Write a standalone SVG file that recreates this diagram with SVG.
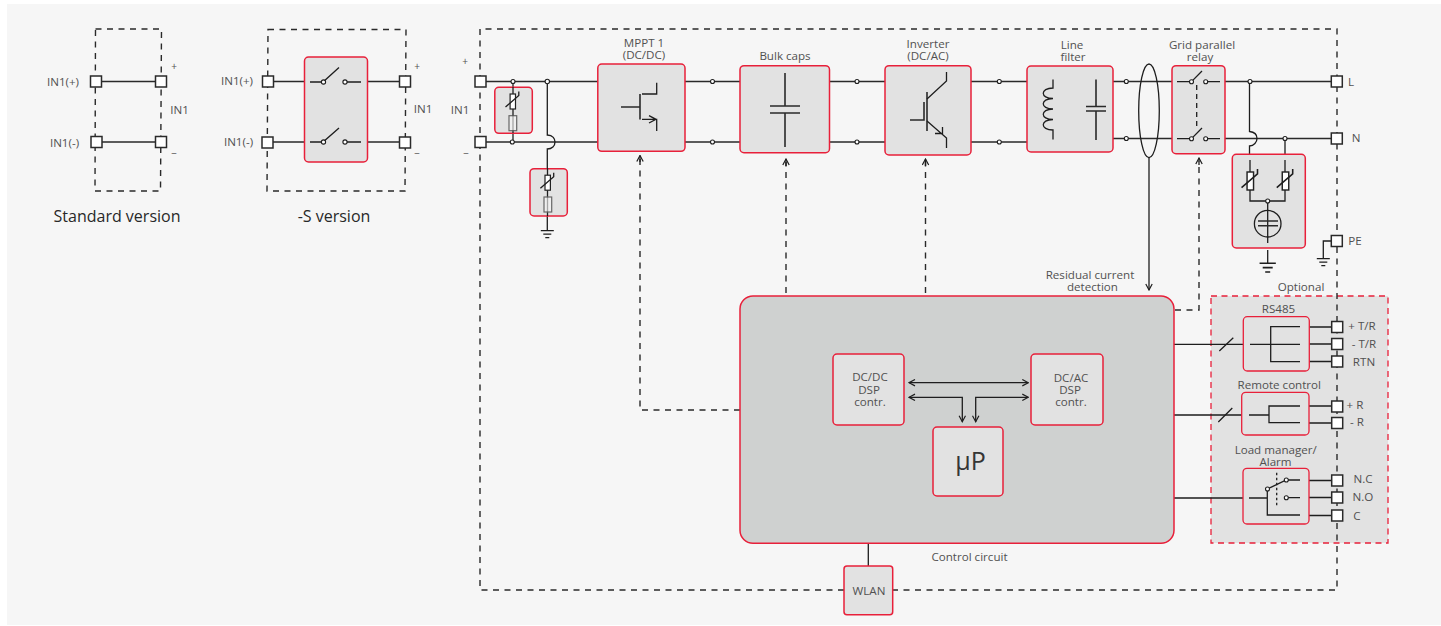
<svg xmlns="http://www.w3.org/2000/svg" width="1441" height="626" viewBox="0 0 1441 626">
<style>
text{font-family:"Open Sans","Noto Sans","Liberation Sans",sans-serif;font-size:11.6px;fill:#505050;text-anchor:middle;opacity:.99}
.t{font-size:16px;fill:#262626}
.w{stroke:#2a2a2a;stroke-width:1.6;fill:none}
.k{stroke:#1e1e1e;stroke-width:1.3;fill:none}
.d{stroke:#2a2a2a;stroke-width:1.4;fill:none;stroke-dasharray:6 5.500}
.b{fill:#e2e2e2;stroke:#e8203a;stroke-width:1.5}
.i{fill:#e2e2e2;stroke:#e8203a;stroke-width:1.3}
.p{fill:#fff;stroke:#2a2a2a;stroke-width:1.5}
.s{fill:#fff;stroke:#222;stroke-width:1.2}
.f{fill:#efefef;stroke:#666;stroke-width:1.2}
.o{fill:#fff;stroke:#1e1e1e;stroke-width:1.1}
</style>
<defs>
<marker id="a" viewBox="0 0 8 8" refX="7" refY="4" markerWidth="8" markerHeight="8" markerUnits="userSpaceOnUse" orient="auto-start-reverse"><path d="M1 .8L7 4L1 7.2" fill="none" stroke="#1e1e1e" stroke-width="1.2"/></marker>
<g id="var"><rect x="-2.700" y="-7.500" width="5.400" height="15" class="s"/><path class="k" d="M-7.300 5.500L6 -6V-10"/></g>
<g id="gnd"><path class="k" d="M-6.500 0H6.500M-4 3.500H4M-2 7H2"/></g>
</defs>
<rect width="1441" height="626" fill="#fff"/>
<rect x="7" y="4" width="1434" height="621" fill="#f6f6f6"/>

<g id="optional-panel"><rect x="1211" y="296" width="177" height="247" fill="#e2e2e2" stroke="#e8203a" stroke-width="1.3" stroke-dasharray="6 4.500"/></g>

<g id="connectors">
<path class="d" d="M95.500 29H161.500L160.500 191H95Z"/>
<path class="d" d="M268 29.500H406L405 191H267Z"/>
<path class="w" d="M96 81.500H161M96 142H161M268 81.500H304M367 81.500H405M267 142H304M367 142H405"/>
<path class="d" d="M480 81V29H1337V590H893M844 590H480V142M480 81V142"/>
<path class="w" d="M481 81.500H598M481 142H598M685 81.500H740M685 142H740M830 81.500H885M830 142H885M971 81.500H1027M971 142H1027M1113 81.500H1172M1113 138.500H1172M1225 81.500H1337M1225 138.500H1337"/>
<path class="k" d="M513 81V142M547.300 81V135C553 135 555 139 555 142C555 146 552 149 547.300 149V168M547.300 216V231"/>
<path class="k" d="M1149 157V290" marker-end="url(#a)"/>
<ellipse cx="1149" cy="110.800" rx="10.300" ry="46.800" class="k"/>
<path class="k" d="M1249.500 81V131.500C1255 132 1257 135 1257 138.500C1257 142 1254 146 1249.500 146V154M1285 138V154M1267.700 250V263"/>
<path class="d" d="M740 410H640V157"/>
<path class="k" d="M640 162V155.500" marker-end="url(#a)"/>
<path class="d" d="M786 293V162"/>
<path class="k" d="M786 166V159" marker-end="url(#a)"/>
<path class="d" d="M925.500 293V162"/>
<path class="k" d="M925.500 166V159" marker-end="url(#a)"/>
<path class="d" d="M1175 310H1199V161"/>
<path class="k" d="M1199 165V158" marker-end="url(#a)"/>
<path class="k" d="M1174 344.300H1243M1174 415H1242M1174 498H1243M868.300 543V566"/>
<path class="k" d="M1219.300 351L1233.300 337.700M1218.300 422L1232.300 408"/>
<path class="k" d="M1309 327H1337M1309 344H1337M1309 361.500H1337M1309 406H1337M1309 423H1337M1309 480.500H1337M1309 497.500H1337M1309 515.500H1337"/>
<path class="k" d="M1337 241H1323.300V258.700"/>
<use href="#gnd" x="1323.300" y="258.700"/>
<use href="#gnd" transform="translate(1267.700 263.300) scale(1.25)"/>
<use href="#gnd" x="547.300" y="230.700"/>
<circle cx="513" cy="81.500" r="2" class="o"/><circle cx="512.300" cy="142" r="2" class="o"/><circle cx="547.300" cy="81.500" r="2.200" class="o"/>
<circle cx="712.500" cy="81.500" r="2" class="o"/><circle cx="712.500" cy="142" r="2" class="o"/><circle cx="857" cy="81.500" r="2" class="o"/><circle cx="857" cy="142" r="2" class="o"/><circle cx="999.300" cy="81.500" r="2" class="o"/><circle cx="999.300" cy="142" r="2" class="o"/><circle cx="1126.300" cy="81.500" r="2" class="o"/><circle cx="1126.300" cy="138.500" r="2" class="o"/><circle cx="1250" cy="81.500" r="2" class="o"/><circle cx="1285" cy="138.500" r="2" class="o"/>
</g>

<g id="standard-version">
<text x="63" y="86">IN1(+)</text><text x="64.500" y="147">IN1(-)</text><text x="174" y="70" style="font-size:10px">+</text><text x="179.500" y="114">IN1</text><text x="174" y="157" style="font-size:10px">−</text>
<rect x="90.500" y="76" width="11" height="11" class="p"/><rect x="155.500" y="76" width="11" height="11" class="p"/><rect x="91" y="136.500" width="11" height="11" class="p"/><rect x="155.500" y="136.500" width="11" height="11" class="p"/>
<text class="t" x="117" y="222">Standard version</text>
</g>
<g id="s-version">
<text x="237" y="85">IN1(+)</text><text x="238.500" y="146">IN1(-)</text><text x="417" y="70" style="font-size:10px">+</text><text x="423" y="113">IN1</text><text x="417" y="157" style="font-size:10px">−</text>
<rect x="304.500" y="57" width="63" height="105" rx="4" class="b"/>
<path class="k" d="M310 82H323L339 67.500M345 82H361M310 142H323L339 128M345 142H361"/>
<circle cx="323.500" cy="82" r="2.100" class="o"/><circle cx="345" cy="82" r="2.100" class="o"/><circle cx="323.500" cy="142" r="2.100" class="o"/><circle cx="345" cy="142" r="2.100" class="o"/>
<rect x="262.500" y="76" width="11" height="11" class="p"/><rect x="399.500" y="76" width="11" height="11" class="p"/><rect x="262" y="137" width="11" height="11" class="p"/><rect x="399.500" y="137" width="11" height="11" class="p"/>
<text class="t" x="334" y="222">-S version</text>
</g>

<g id="dc-input"><text x="465" y="65" style="font-size:10px">+</text><text x="460" y="114">IN1</text><text x="466" y="157" style="font-size:10px">−</text>
<rect x="475" y="76" width="11" height="11" class="p"/><rect x="475" y="136.500" width="11" height="11" class="p"/></g>

<g id="spd-dc1"><rect x="494.800" y="87.300" width="37.500" height="46" rx="4" class="b"/>
<path class="k" d="M513 87V133"/><use href="#var" x="512.800" y="101.500"/><rect x="509" y="115.700" width="7.700" height="15" class="f"/><path class="k" d="M513 115V131" opacity=".35"/></g>
<g id="spd-dc2"><rect x="530" y="168.700" width="37.300" height="47.300" rx="4" class="b"/>
<path class="k" d="M547.500 168V216"/><use href="#var" x="547.700" y="182.700"/><rect x="544" y="197" width="7.700" height="15" class="f"/><path class="k" d="M547.500 197V212" opacity=".35"/></g>

<g id="mppt"><text><tspan x="644" y="47">MPPT 1</tspan><tspan x="644" y="59">(DC/DC)</tspan></text>
<rect x="597.800" y="64" width="87.200" height="87.300" rx="4" class="b"/>
<path class="w" d="M621 107H640M640 94V119.500"/>
<path class="k" d="M642 94H656.700V82.700M642 119.300H656.700V131M649 115.700L656 119.300L649 123"/></g>

<g id="bulk"><text x="785" y="60">Bulk caps</text>
<rect x="740" y="65.700" width="89.500" height="87" rx="4" class="b"/>
<path class="w" d="M785 73V106M785 113V147M770 106H800M770 113H800"/></g>

<g id="inverter"><text><tspan x="928" y="48">Inverter</tspan><tspan x="928" y="60">(DC/AC)</tspan></text>
<rect x="885" y="65.700" width="86" height="89.300" rx="4" class="b"/>
<path class="w" d="M910 120H924V102M927 92V131"/><path class="k" d="M927 99L946.500 81V72M927 121L946.500 138V148M935 133.500H942.500V127"/></g>

<g id="line-filter"><text><tspan x="1072" y="49">Line</tspan><tspan x="1073" y="61">filter</tspan></text>
<rect x="1027" y="66" width="86" height="86" rx="4" class="b"/>
<path class="k" d="M1053 79.500V88C1040 88 1040 98.500 1053 98.500C1040 98.500 1040 109 1053 109C1040 109 1040 119.500 1053 119.500C1040 119.500 1040 130 1053 130V139.500"/>
<path class="w" d="M1096 79.500V106.500M1096 111V140M1086 106.500H1106M1086 111H1106"/></g>

<g id="relay"><text><tspan x="1202" y="49">Grid parallel</tspan><tspan x="1200" y="61">relay</tspan></text>
<rect x="1172" y="65.700" width="53" height="88" rx="4" class="b"/>
<path class="k" d="M1177 81.700H1191.500L1202 71M1205.500 81.700H1220M1177 138.700H1191.500L1202 128M1205.500 138.700H1220"/>
<path class="k" d="M1196.700 85V127" stroke-dasharray="5 4"/>
<circle cx="1191.500" cy="81.700" r="2" class="o"/><circle cx="1205.700" cy="81.700" r="2" class="o"/><circle cx="1191.500" cy="138.700" r="2" class="o"/><circle cx="1205.700" cy="138.700" r="2" class="o"/></g>

<g id="spd-ac"><rect x="1232.300" y="154.300" width="73" height="93.700" rx="4" class="b"/>
<path class="k" d="M1250 160V201H1285V160M1267.700 201V243"/>
<use href="#var" transform="translate(1250.300 181) scale(1.200)"/><use href="#var" transform="translate(1285.500 181) scale(1.200)"/>
<circle cx="1267.700" cy="223.700" r="13.300" class="k"/>
<circle cx="1267.700" cy="201" r="2" class="o"/>
<path class="w" d="M1258 221H1278M1258 225.700H1278"/></g>

<g id="terminals-ac"><rect x="1331.300" y="76" width="11" height="11" class="p"/><rect x="1331.300" y="133" width="11" height="11" class="p"/><rect x="1331.300" y="235.500" width="11" height="11" class="p"/>
<text x="1351" y="86">L</text><text x="1356" y="142">N</text><text x="1355" y="245">PE</text></g>

<g id="labels"><text><tspan x="1090" y="279">Residual current</tspan><tspan x="1092.500" y="291">detection</tspan></text><text x="1301" y="291">Optional</text><text x="969.500" y="561">Control circuit</text></g>

<g id="control"><rect x="740" y="296" width="434" height="247.300" rx="13" fill="#cfd1d0" stroke="#e8203a" stroke-width="1.500"/></g>
<g id="dcdc-dsp"><rect x="833" y="354" width="71" height="71" rx="4" class="b"/><text><tspan x="870" y="381">DC/DC</tspan><tspan x="869" y="394">DSP</tspan><tspan x="870" y="406">contr.</tspan></text></g>
<g id="dcac-dsp"><rect x="1031" y="354" width="72" height="71" rx="4" class="b"/><text><tspan x="1071" y="382">DC/AC</tspan><tspan x="1070" y="394">DSP</tspan><tspan x="1071" y="406">contr.</tspan></text></g>
<g id="up"><rect x="933" y="427" width="70" height="69" rx="4" class="b"/><text x="970.500" y="470" style="font-size:25px;fill:#333">µP</text></g>
<g id="buses"><path class="k" d="M909 382.700H1028.300" marker-start="url(#a)" marker-end="url(#a)"/>
<path class="k" d="M909 397.300H962.300V421.700" marker-start="url(#a)" marker-end="url(#a)"/>
<path class="k" d="M1028.300 397.300H975.700V421.700" marker-start="url(#a)" marker-end="url(#a)"/></g>
<g id="wlan"><rect x="844" y="566" width="48.700" height="48.700" rx="3" class="b"/><text x="869" y="595">WLAN</text></g>

<g id="rs485"><text x="1278.500" y="313">RS485</text><rect x="1243.300" y="316.700" width="66" height="54.300" rx="4" class="i"/>
<path class="k" d="M1300 326.700H1270.700V361.700H1300M1250 344.300H1300"/></g>
<g id="remote"><text x="1279.300" y="389">Remote control</text><rect x="1241.700" y="392.300" width="67.300" height="42.700" rx="4" class="i"/>
<path class="k" d="M1300 406H1269V422.700H1300M1249 415H1269"/></g>
<g id="load"><text><tspan x="1275.700" y="454">Load manager/</tspan><tspan x="1275.500" y="466">Alarm</tspan></text><rect x="1243" y="468.300" width="66" height="55.700" rx="4" class="i"/>
<path class="k" d="M1249 498H1267.300M1267.300 489V515H1300M1267.300 489L1286.300 480H1300M1286.300 497.700H1300"/>
<path class="k" d="M1276.700 472.700V507.300" stroke-dasharray="2.500 2.500"/>
<circle cx="1267.500" cy="489" r="2" class="o"/><circle cx="1286.300" cy="480" r="2" class="o"/><circle cx="1286.300" cy="497.700" r="2" class="o"/></g>
<g id="opt-terminals">
<rect x="1331.700" y="321.500" width="11" height="11" class="p"/><rect x="1331.700" y="338.500" width="11" height="11" class="p"/><rect x="1331.700" y="356" width="11" height="11" class="p"/>
<rect x="1331.700" y="401" width="11" height="11" class="p"/><rect x="1331.700" y="417.500" width="11" height="11" class="p"/>
<rect x="1331.700" y="475" width="11" height="11" class="p"/><rect x="1331.700" y="492" width="11" height="11" class="p"/><rect x="1331.700" y="510" width="11" height="11" class="p"/>
<text x="1362" y="330">+ T/R</text><text x="1364" y="348">- T/R</text><text x="1364" y="366">RTN</text><text x="1355" y="409">+ R</text><text x="1357" y="426">- R</text><text x="1363" y="483">N.C</text><text x="1363" y="501">N.O</text><text x="1357" y="520">C</text></g>
</svg>
